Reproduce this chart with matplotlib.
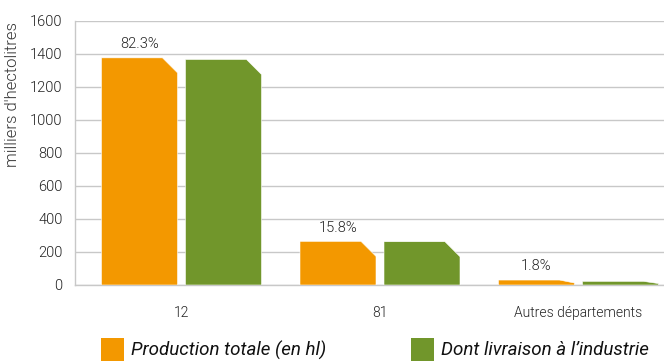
import matplotlib
matplotlib.use("Agg")
import matplotlib.pyplot as plt
from matplotlib.patches import Polygon, Rectangle

plt.rcParams['font.family'] = ['Roboto', 'DejaVu Sans']
plt.rcParams['font.weight'] = 300

categories = ["12", "81", "Autres départements"]
production = [1375, 264, 30]
livraison = [1365, 262, 22]
pct_labels = ["82.3%", "15.8%", "1.8%"]
series_names = ["Production totale (en hl)", "Dont livraison à l\u2019industrie"]
colors = ["#f39800", "#71962b"]
yticks = [0, 200, 400, 600, 800, 1000, 1200, 1400, 1600]

W, H = 664, 363
fig = plt.figure(figsize=(W / 100, H / 100), dpi=100)
ax = fig.add_axes([75 / W, (H - 285) / H, (W - 75) / W, (285 - 20.7) / H])

px_x = 198.5          # pixels per category unit
px_y = 264.3 / 1600   # pixels per data unit
c0 = 181.5            # pixel position of first category
ax.set_xlim((75 - c0) / px_x, (W - c0) / px_x)
ax.set_ylim(0, 1600)

bar_w = 76 / px_x
offset = 42 / px_x
cham_w = 15 / px_x
cham_h = 15 / px_y


def chamfer_bar(xc, h, color):
    x0, x1 = xc - bar_w / 2, xc + bar_w / 2
    ch = min(cham_h, 0.6 * h)
    pts = [(x0, 0), (x0, h), (x1 - cham_w, h), (x1, h - ch), (x1, 0)]
    ax.add_patch(Polygon(pts, closed=True, facecolor=color,
                         edgecolor="white", linewidth=0.4, zorder=3))


for i, (p, l) in enumerate(zip(production, livraison)):
    chamfer_bar(i - offset, p, colors[0])
    chamfer_bar(i + offset, l, colors[1])
    ax.annotate(pct_labels[i], xy=(i - offset, p), xytext=(0, 10),
                textcoords="offset points", ha="center", va="center",
                fontsize=10.5, color="#222222", zorder=4)

ax.set_yticks(yticks)
ax.set_yticklabels([str(v) for v in yticks])
ax.set_xticks(range(len(categories)))
ax.set_xticklabels(categories)
ax.tick_params(axis="y", length=0, pad=9, labelsize=10.5, labelcolor="#222222")
ax.tick_params(axis="x", length=0, pad=15, labelsize=10, labelcolor="#222222")

ax.grid(axis="y", color="#c8c8c8", linewidth=1.0, zorder=0)
ax.set_axisbelow(True)
for s in ["top", "right"]:
    ax.spines[s].set_visible(False)
ax.spines["left"].set_color("#c8c8c8")
ax.spines["bottom"].set_color("#c8c8c8")
ax.spines["left"].set_linewidth(1.0)
ax.spines["bottom"].set_linewidth(1.0)

fig.text(13 / W, 1 - 22 / H, "milliers d'hectolitres", rotation=90,
         ha="center", va="top", fontsize=12, color="#333333")

# legend
leg_x = [101, 411]
for (lx, name, col) in zip(leg_x, series_names, colors):
    fig.add_artist(Rectangle((lx / W, (H - 361) / H), 23 / W, 23 / H,
                             transform=fig.transFigure, facecolor=col,
                             edgecolor="none"))
    fig.text((lx + 30) / W, (H - 350) / H, name, ha="left", va="center",
             fontsize=13.5, style="italic", fontweight="normal",
             color="#111111")

fig.savefig("out.png", dpi=100)
